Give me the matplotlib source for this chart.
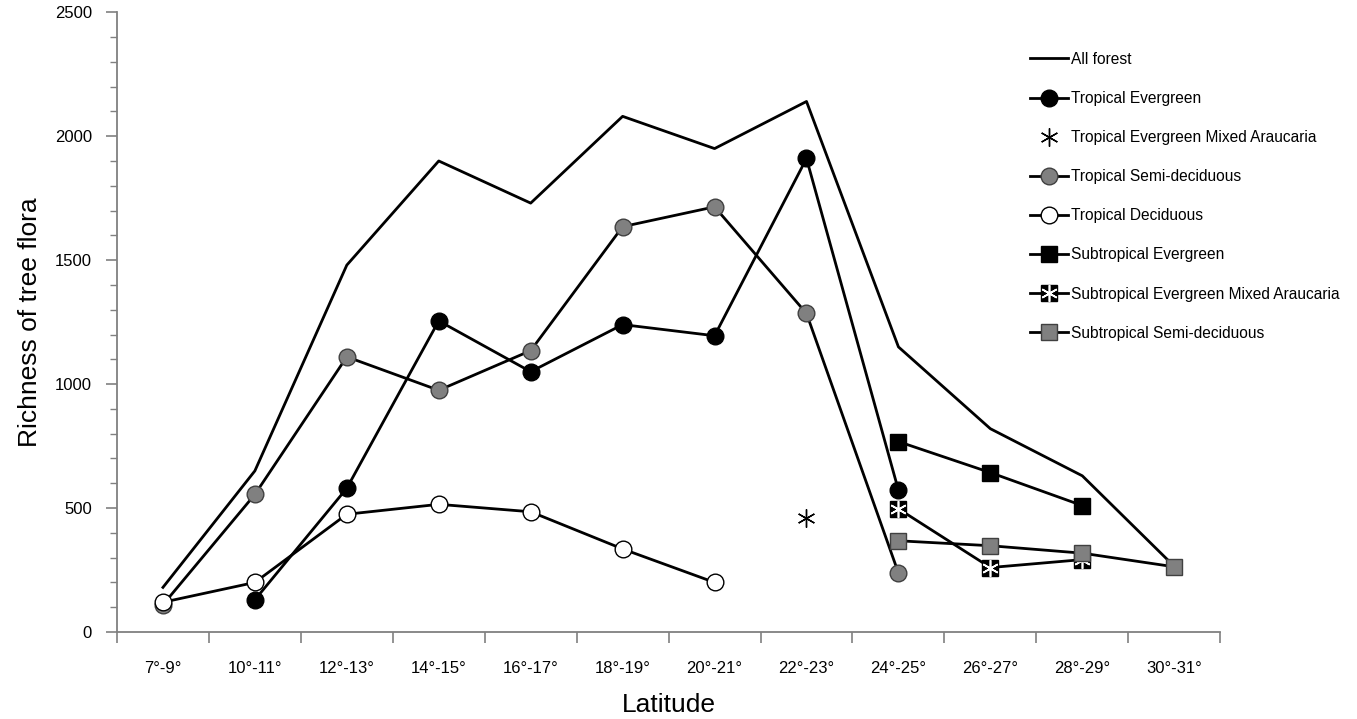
import numpy as np
import matplotlib
matplotlib.use("Agg")
import matplotlib.pyplot as plt
from matplotlib.lines import Line2D

plt.rcParams["font.family"] = ["Liberation Sans", "DejaVu Sans"]

latitudes = ["7°-9°", "10°-11°", "12°-13°", "14°-15°", "16°-17°", "18°-19°",
             "20°-21°", "22°-23°", "24°-25°", "26°-27°", "28°-29°", "30°-31°"]

nan = np.nan
all_forest = [180, 650, 1480, 1900, 1730, 2080, 1950, 2140, 1150, 820, 630, 265]
trop_evergreen = [nan, 130, 580, 1255, 1050, 1240, 1195, 1910, 572, nan, nan, nan]
trop_ever_araucaria = [nan, nan, nan, nan, nan, nan, nan, 460, nan, nan, nan, nan]
trop_semideciduous = [110, 555, 1110, 975, 1135, 1635, 1715, 1285, 238, nan, nan, nan]
trop_deciduous = [120, 200, 475, 515, 485, 335, 200, nan, nan, nan, nan, nan]
sub_evergreen = [nan, nan, nan, nan, nan, nan, nan, nan, 768, 643, 510, nan]
sub_ever_araucaria = [nan, nan, nan, nan, nan, nan, nan, nan, 497, 260, 292, nan]
sub_semideciduous = [nan, nan, nan, nan, nan, nan, nan, nan, 368, 348, 318, 263]

x = np.arange(len(latitudes))
grey = "#808080"
lw = 2.0
ms = 12
star = (6, 2, 0)

fig = plt.figure(figsize=(13.57, 7.19), dpi=100)
ax = fig.add_axes([0.0862, 0.121, 0.813, 0.862])

ax.plot(x, all_forest, color="black", lw=lw, label="All forest")
ax.plot(x, trop_evergreen, color="black", lw=lw, marker="o", ms=ms,
        mfc="black", mec="black", label="Tropical Evergreen")
ax.plot(x, trop_ever_araucaria, ls="none", marker=star, ms=13,
        mec="black", mew=1.0, label="Tropical Evergreen Mixed Araucaria")
ax.plot(x, trop_semideciduous, color="black", lw=lw, marker="o", ms=ms,
        mfc=grey, mec="#404040", mew=1.0, label="Tropical Semi-deciduous")
ax.plot(x, trop_deciduous, color="black", lw=lw, marker="o", ms=ms,
        mfc="white", mec="black", mew=1.0, label="Tropical Deciduous")
ax.plot(x, sub_evergreen, color="black", lw=lw, marker="s", ms=ms,
        mfc="black", mec="black", label="Subtropical Evergreen")
ax.plot(x, sub_ever_araucaria, color="black", lw=lw, marker="s", ms=ms,
        mfc="black", mec="black")
ax.plot(x, sub_ever_araucaria, ls="none", marker=star, ms=12,
        mec="white", mew=1.2)
ax.plot(x, sub_semideciduous, color="black", lw=lw, marker="s", ms=ms,
        mfc=grey, mec="#404040", mew=1.0, label="Subtropical Semi-deciduous")

# axes styling
ax.set_xlim(-0.47, 11.49)
ax.set_ylim(0, 2500)
for side in ["top", "right"]:
    ax.spines[side].set_visible(False)
for side in ["left", "bottom"]:
    ax.spines[side].set_color(grey)
    ax.spines[side].set_linewidth(1.3)

ax.set_yticks(np.arange(0, 2501, 500))
ax.set_yticks(np.arange(0, 2501, 100), minor=True)
ax.tick_params(axis="y", which="major", direction="out", length=8,
               color=grey, width=1.2, labelsize=12, pad=10)
ax.tick_params(axis="y", which="minor", direction="out", length=5,
               color=grey, width=1.0)

ax.set_xticks(np.arange(-0.5, 12, 1))
ax.set_xticklabels([])
ax.set_xticks(x, minor=True)
ax.set_xticklabels(latitudes, minor=True)
ax.tick_params(axis="x", which="major", direction="out", length=8,
               color=grey, width=1.2)
ax.tick_params(axis="x", which="minor", length=0, labelsize=12, pad=21)

ax.set_xlabel("Latitude", fontsize=19, labelpad=12)
ax.set_ylabel("Richness of tree flora", fontsize=19, labelpad=9)

# legend
handles, labels = ax.get_legend_handles_labels()
sub_ema = (Line2D([], [], color="black", lw=lw, marker="s", ms=ms,
                  mfc="black", mec="black"),
           Line2D([], [], ls="none", marker=star, ms=12, mec="white",
                  mew=1.2))
handles.insert(6, sub_ema)
labels.insert(6, "Subtropical Evergreen Mixed Araucaria")
ax.legend(handles, labels, loc="upper left", bbox_to_anchor=(0.822, 0.946),
          frameon=False, fontsize=11.2, handlelength=2.45, labelspacing=1.55,
          handletextpad=0.2, borderaxespad=0)

fig.savefig("out.png", dpi=100)
